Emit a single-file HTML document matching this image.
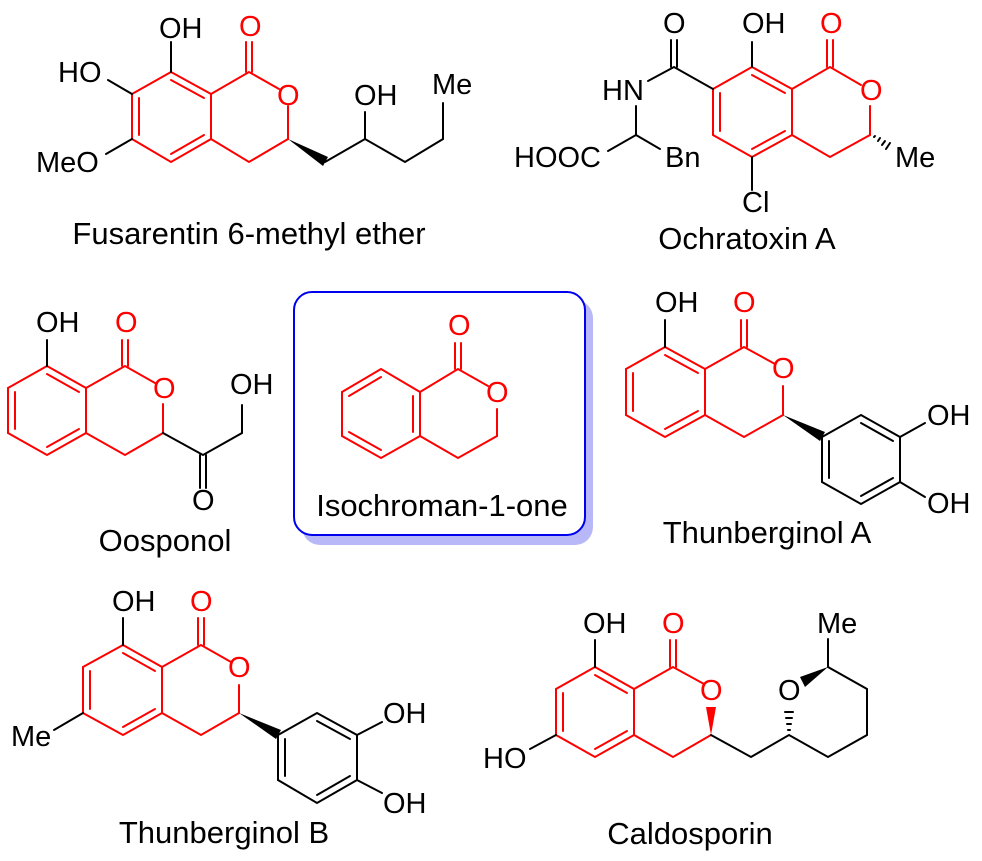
<!DOCTYPE html>
<html><head><meta charset="utf-8"><style>
html,body{margin:0;padding:0;background:#fff;}
svg{display:block;}
text{font-family:"Liberation Sans",Arial,sans-serif;}
</style></head><body>
<svg width="982" height="861" viewBox="0 0 982 861" xmlns="http://www.w3.org/2000/svg">
<rect x="302" y="300" width="291" height="245" rx="18" fill="#b8b8f8"/>
<rect x="294" y="292" width="291" height="243" rx="18" fill="#fff" stroke="#0000ee" stroke-width="2"/>

<g stroke-width="2" fill="none" stroke-linecap="round">
<g stroke="#f00">
<polyline points="171,72 211,94 211,139 171,162 132,139 132,94 171,72"/>
<line x1="171" y1="80" x2="204" y2="98"/><line x1="139" y1="135" x2="139" y2="98"/><line x1="171" y1="154" x2="204" y2="135"/>
<polyline points="211,94 249,72 279,89"/>
<polyline points="288,106 288,139 249,162 211,139"/>
<line x1="246" y1="72" x2="246" y2="42"/><line x1="252" y1="72" x2="252" y2="42"/>
</g>
<g stroke="#000">
<line x1="171" y1="72" x2="171" y2="42"/>
<line x1="132" y1="94" x2="108" y2="80"/>
<line x1="132" y1="139" x2="106" y2="154"/>
<polyline points="325,162 365,139 405,162 443,139 443,103"/>
<line x1="365" y1="139" x2="365" y2="112"/>
</g>
<g stroke="#f00">
<polyline points="752,67 792,89 792,135 752,157 713,135 713,89 752,67"/>
<line x1="752" y1="75" x2="785" y2="93"/><line x1="720" y1="131" x2="720" y2="93"/><line x1="752" y1="149" x2="785" y2="131"/>
<polyline points="792,89 830,67 861,85"/>
<polyline points="870,106 870,135 830,157 792,135"/>
<line x1="827" y1="67" x2="827" y2="40"/><line x1="833" y1="67" x2="833" y2="40"/>
</g>
<g stroke="#000">
<line x1="752" y1="67" x2="752" y2="42"/>
<line x1="752" y1="157" x2="752" y2="190"/>
<polyline points="713,89 674,67 648,81"/>
<line x1="671" y1="67" x2="671" y2="40"/><line x1="677" y1="67" x2="677" y2="40"/>
<polyline points="636,106 636,135 608,151"/>
<line x1="636" y1="135" x2="660" y2="149"/>
<line x1="874" y1="137" x2="875" y2="136"/><line x1="878" y1="141" x2="880" y2="138"/><line x1="882" y1="145" x2="885" y2="141"/><line x1="886" y1="149" x2="890" y2="143"/>
</g>
<g stroke="#f00">
<polyline points="47,366 86,388 86,433 47,455 8,433 8,388 47,366"/>
<line x1="47" y1="374" x2="79" y2="392"/><line x1="15" y1="429" x2="15" y2="392"/><line x1="47" y1="447" x2="79" y2="429"/>
<polyline points="86,388 125,366 155,383"/>
<polyline points="163,404 163,433 125,455 86,433"/>
<line x1="122" y1="366" x2="122" y2="340"/><line x1="128" y1="366" x2="128" y2="340"/>
</g>
<g stroke="#000">
<line x1="47" y1="366" x2="47" y2="340"/>
<polyline points="163,433 203,455 242,433 242,405"/>
<line x1="200" y1="455" x2="200" y2="488"/><line x1="206" y1="455" x2="206" y2="488"/>
</g>
<g stroke="#f00">
<polyline points="381,369 420,392 420,436 381,458 342,436 342,392 381,369"/>
<line x1="349" y1="396" x2="381" y2="377"/><line x1="413" y1="396" x2="413" y2="432"/><line x1="349" y1="432" x2="381" y2="450"/>
<polyline points="420,392 458,369 488,386"/>
<polyline points="497,409 497,436 458,458 420,436"/>
<line x1="455" y1="369" x2="455" y2="343"/><line x1="461" y1="369" x2="461" y2="343"/>
</g>
<g stroke="#f00">
<polyline points="665,347 705,369 705,415 665,437 626,415 626,369 665,347"/>
<line x1="665" y1="355" x2="698" y2="373"/><line x1="633" y1="411" x2="633" y2="373"/><line x1="665" y1="429" x2="698" y2="411"/>
<polyline points="705,369 744,347 775,364"/>
<polyline points="783,386 783,415 744,437 705,415"/>
<line x1="741" y1="347" x2="741" y2="320"/><line x1="747" y1="347" x2="747" y2="320"/>
</g>
<g stroke="#000">
<line x1="665" y1="347" x2="665" y2="320"/>
<polyline points="822,437 861,415 900,437 900,482 861,504 822,482 822,437"/>
<line x1="861" y1="423" x2="893" y2="441"/><line x1="893" y1="478" x2="861" y2="496"/><line x1="829" y1="441" x2="829" y2="478"/>
<line x1="900" y1="437" x2="925" y2="423"/><line x1="900" y1="482" x2="925" y2="497"/>
</g>
<g stroke="#f00">
<polyline points="123,645 162,667 162,713 123,735 83,713 83,667 123,645"/>
<line x1="123" y1="653" x2="155" y2="671"/><line x1="90" y1="709" x2="90" y2="671"/><line x1="123" y1="727" x2="155" y2="709"/>
<polyline points="162,667 201,645 231,662"/>
<polyline points="239,685 239,713 201,735 162,713"/>
<line x1="198" y1="645" x2="198" y2="618"/><line x1="204" y1="645" x2="204" y2="618"/>
</g>
<g stroke="#000">
<line x1="123" y1="645" x2="123" y2="618"/>
<line x1="83" y1="713" x2="54" y2="730"/>
<polyline points="278,735 317,713 357,735 357,780 317,803 278,780 278,735"/>
<line x1="317" y1="721" x2="350" y2="739"/><line x1="350" y1="776" x2="317" y2="795"/><line x1="285" y1="739" x2="285" y2="776"/>
<line x1="357" y1="735" x2="382" y2="722"/><line x1="357" y1="780" x2="382" y2="793"/>
</g>
<g stroke="#f00">
<polyline points="595,667 634,689 634,735 595,757 556,735 556,689 595,667"/>
<line x1="595" y1="675" x2="627" y2="693"/><line x1="563" y1="731" x2="563" y2="693"/><line x1="595" y1="749" x2="627" y2="731"/>
<polyline points="634,689 673,667 704,684"/>
<polyline points="711,735 673,757 634,735"/>
<line x1="670" y1="667" x2="670" y2="640"/><line x1="676" y1="667" x2="676" y2="640"/>
</g>
<g stroke="#000">
<line x1="595" y1="667" x2="595" y2="640"/>
<line x1="556" y1="735" x2="530" y2="749"/>
<polyline points="711,735 751,757 789,735 828,757 867,735 867,689 828,667 828,639"/>
<line x1="788" y1="730" x2="790" y2="730"/><line x1="787" y1="724" x2="791" y2="724"/><line x1="786" y1="718" x2="792" y2="718"/><line x1="785" y1="712" x2="793" y2="712"/>
</g>
</g>
<polygon points="288,139 323,166 328,157" fill="#000"/>
<polygon points="783,415 820,441 825,432" fill="#000"/>
<polygon points="239,713 276,739 281,730" fill="#000"/>
<polygon points="711,735 706,707 716,707" fill="#f00"/>
<polygon points="828,667 800,677 805,687" fill="#000"/>

<g font-size="29" fill="#000">
<text x="159" y="38">OH</text>
<text x="58" y="82">HO</text>
<text x="36" y="172">MeO</text>
<text x="354" y="105">OH</text>
<text x="432" y="94">Me</text>
<text x="663" y="33">O</text>
<text x="742" y="33">OH</text>
<text x="602" y="100">HN</text>
<text x="514" y="167">HOOC</text>
<text x="665" y="167">Bn</text>
<text x="742" y="212">Cl</text>
<text x="895" y="167">Me</text>
<text x="36" y="332">OH</text>
<text x="230" y="394">OH</text>
<text x="192" y="510">O</text>
<text x="655" y="312">OH</text>
<text x="927" y="425">OH</text>
<text x="927" y="513">OH</text>
<text x="112" y="611">OH</text>
<text x="11" y="746">Me</text>
<text x="383" y="723">OH</text>
<text x="383" y="813">OH</text>
<text x="583" y="633">OH</text>
<text x="483" y="768">HO</text>
<text x="778" y="700">O</text>
<text x="817" y="633">Me</text>
</g>
<g font-size="29" fill="#f00">
<text x="239" y="36">O</text>
<text x="277" y="105">O</text>
<text x="820" y="33">O</text>
<text x="860" y="100">O</text>
<text x="115" y="332">O</text>
<text x="153" y="398">O</text>
<text x="448" y="335">O</text>
<text x="486" y="402">O</text>
<text x="733" y="312">O</text>
<text x="772" y="378">O</text>
<text x="190" y="611">O</text>
<text x="228" y="677">O</text>
<text x="662" y="633">O</text>
<text x="700" y="700">O</text>
</g>
<g font-size="31" fill="#000" text-anchor="middle">
<text x="249" y="244">Fusarentin 6-methyl ether</text>
<text x="747" y="249">Ochratoxin A</text>
<text x="165" y="551">Oosponol</text>
<text x="442" y="516">Isochroman-1-one</text>
<text x="767" y="543">Thunberginol A</text>
<text x="224" y="843">Thunberginol B</text>
<text x="690" y="844">Caldosporin</text>
</g>
</svg>
</body></html>
